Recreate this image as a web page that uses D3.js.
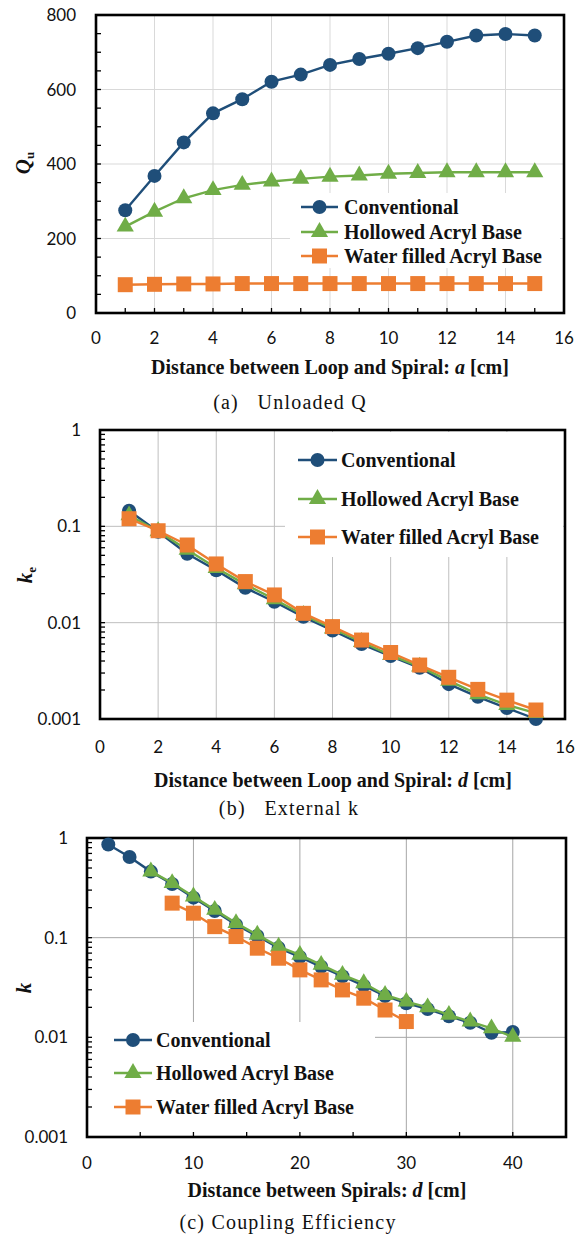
<!DOCTYPE html>
<html>
<head>
<meta charset="utf-8">
<script src="https://cdn.jsdelivr.net/npm/d3@7"></script>
<style>
  body { margin: 0; background: #fff; }
  svg text { fill: #111; }
</style>
</head>
<body>
<svg id="fig" width="579" height="1236"></svg>
<script>
// ---- data ----
const seriesNames = ["Conventional", "Hollowed Acryl Base", "Water filled Acryl Base"];
const seriesColors = ["#1f4e79", "#70ad47", "#ed7d31"];
const seriesSymbols = ["circle", "triangle", "square"];

// (a) unloaded Q vs loop-spiral distance a [cm]
const qDist = [1, 2, 3, 4, 5, 6, 7, 8, 9, 10, 11, 12, 13, 14, 15];
const qConventional = [276, 368, 458, 536, 574, 621, 640, 666, 682, 696, 711, 728, 745, 749, 745];
const qHollowed = [232, 272, 308, 330, 344, 353, 360, 366, 369, 374, 376, 378, 378, 378, 378];
const qWater = [76, 77, 78, 78, 79, 79, 79, 79, 79, 79, 79, 79, 79, 79, 79];

// (b) external coupling ke vs loop-spiral distance d [cm]
const keDist = [1, 2, 3, 4, 5, 6, 7, 8, 9, 10, 11, 12, 13, 14, 15];
const keConventional = [0.145, 0.088, 0.052, 0.035, 0.023, 0.0165, 0.0115, 0.0083, 0.006, 0.0045, 0.0034, 0.0023, 0.0017, 0.0013, 0.001];
const keHollowed = [0.13, 0.089, 0.057, 0.037, 0.025, 0.0175, 0.012, 0.0087, 0.0063, 0.0046, 0.0035, 0.0025, 0.0018, 0.0014, 0.00115];
const keWater = [0.12, 0.09, 0.064, 0.0407, 0.0267, 0.0194, 0.0125, 0.0091, 0.0066, 0.0049, 0.00363, 0.00271, 0.00203, 0.00157, 0.00124];

// (c) coupling coefficient k vs spiral-spiral distance d [cm]
const kDistConventional = [2, 4, 6, 8, 10, 12, 14, 16, 18, 20, 22, 24, 26, 28, 30, 32, 34, 36, 38, 40];
const kConventional = [0.86, 0.645, 0.46, 0.345, 0.252, 0.185, 0.135, 0.104, 0.079, 0.064, 0.051, 0.041, 0.033, 0.026, 0.022, 0.0192, 0.0163, 0.014, 0.0111, 0.0113];
const kDistHollowed = [6, 8, 10, 12, 14, 16, 18, 20, 22, 24, 26, 28, 30, 32, 34, 36, 38, 40];
const kHollowed = [0.462, 0.353, 0.259, 0.19, 0.14, 0.107, 0.0814, 0.0672, 0.0533, 0.0423, 0.0349, 0.0266, 0.0228, 0.02, 0.0168, 0.0144, 0.0123, 0.0101];
const kDistWater = [8, 10, 12, 14, 16, 18, 20, 22, 24, 26, 28, 30];
const kWater = [0.222, 0.176, 0.129, 0.1026, 0.0784, 0.0622, 0.0475, 0.0377, 0.0299, 0.0247, 0.0188, 0.0144];

// tick labels
const qXTicks = [0, 2, 4, 6, 8, 10, 12, 14, 16];
const qYTicks = [0, 200, 400, 600, 800];
const logTicks = [0.001, 0.01, 0.1, 1];
const logTickLabels = ["0.001", "0.01", "0.1", "1"];
const kXTicks = [0, 10, 20, 30, 40];

// ---- drawing ----
const svg = d3.select("#fig");
const TICK_FONT = "Lato, 'Open Sans', sans-serif";
const SERIF = "'Liberation Serif', 'Times New Roman', serif";

const symbolTypes = {
  circle: { type: d3.symbolCircle, size: Math.PI * 7 * 7 },
  triangle: { type: d3.symbolTriangle, size: 128 },
  square: { type: d3.symbolSquare, size: 225 }
};

function symbolPath(name) {
  const s = symbolTypes[name];
  return d3.symbol().type(s.type).size(s.size)();
}

function drawPanel(cfg) {
  const g = svg.append("g");
  const x = d3.scaleLinear().domain(cfg.xDomain).range([cfg.left, cfg.right]);
  const y = (cfg.log ? d3.scaleLog() : d3.scaleLinear()).domain(cfg.yDomain).range([cfg.bottom, cfg.top]);

  // gridlines
  g.append("g").selectAll("line.gx").data(cfg.gridX).join("line")
    .attr("x1", d => x(d)).attr("x2", d => x(d))
    .attr("y1", cfg.top).attr("y2", cfg.bottom)
    .attr("stroke", cfg.gridColor).attr("stroke-width", 1);
  g.append("g").selectAll("line.gy").data(cfg.gridY).join("line")
    .attr("x1", cfg.left).attr("x2", cfg.right)
    .attr("y1", d => y(d)).attr("y2", d => y(d))
    .attr("stroke", cfg.gridColor).attr("stroke-width", 1);

  // legend background masks the grid behind it
  const lb = cfg.legendBox;
  g.append("rect").attr("x", lb[0]).attr("y", lb[1]).attr("width", lb[2] - lb[0]).attr("height", lb[3] - lb[1])
    .attr("fill", "#fff");

  // inward minor ticks
  const yMinor = cfg.yMinor;
  g.append("g").selectAll("line").data(yMinor).join("line")
    .attr("x1", cfg.left).attr("x2", cfg.left + 5)
    .attr("y1", d => y(d)).attr("y2", d => y(d))
    .attr("stroke", "#000").attr("stroke-width", 1.3);
  g.append("g").selectAll("line").data(cfg.xMinor).join("line")
    .attr("x1", d => x(d)).attr("x2", d => x(d))
    .attr("y1", cfg.bottom).attr("y2", cfg.bottom - 5)
    .attr("stroke", "#000").attr("stroke-width", 1.3);

  // frame
  g.append("rect").attr("x", cfg.left).attr("y", cfg.top)
    .attr("width", cfg.right - cfg.left).attr("height", cfg.bottom - cfg.top)
    .attr("fill", "none").attr("stroke", "#000").attr("stroke-width", 2.6);

  // tick labels
  g.append("g").selectAll("text").data(cfg.xTicks).join("text")
    .attr("x", d => x(d)).attr("y", cfg.xLabelY).attr("dy", "0.36em")
    .attr("text-anchor", "middle").attr("font-family", TICK_FONT).attr("font-size", 17)
    .text(d => d);
  g.append("g").selectAll("text").data(cfg.yTicks).join("text")
    .attr("x", cfg.yLabelX).attr("y", d => y(d)).attr("dy", "0.36em")
    .attr("text-anchor", "end").attr("font-family", TICK_FONT).attr("font-size", 17)
    .text((d, i) => cfg.yTickLabels ? cfg.yTickLabels[i] : d);

  // series
  cfg.series.forEach((s, si) => {
    const pts = s.xs.map((xv, i) => [x(xv), y(s.ys[i])]);
    g.append("path").attr("d", d3.line()(pts))
      .attr("fill", "none").attr("stroke", seriesColors[si]).attr("stroke-width", 2.4);
    g.append("g").selectAll("path").data(pts).join("path")
      .attr("d", symbolPath(seriesSymbols[si]))
      .attr("transform", d => `translate(${d[0]},${d[1]})`)
      .attr("fill", seriesColors[si]);
  });

  // legend
  seriesNames.forEach((name, i) => {
    const ly = cfg.legendYs[i];
    const [lx1, lx2, tx] = cfg.legendX;
    g.append("line").attr("x1", lx1).attr("x2", lx2).attr("y1", ly).attr("y2", ly)
      .attr("stroke", seriesColors[i]).attr("stroke-width", 2.4);
    g.append("path").attr("d", symbolPath(seriesSymbols[i]))
      .attr("transform", `translate(${(lx1 + lx2) / 2},${ly})`).attr("fill", seriesColors[i]);
    g.append("text").attr("x", tx).attr("y", ly).attr("dy", "0.34em")
      .attr("font-family", SERIF).attr("font-weight", "bold").attr("font-size", 20)
      .text(name);
  });

  // x-axis title
  const xt = g.append("text").attr("x", cfg.xTitle.x).attr("y", cfg.xTitle.y).attr("dy", "0.34em")
    .attr("text-anchor", "middle").attr("font-family", SERIF).attr("font-weight", "bold").attr("font-size", 20);
  xt.append("tspan").text(cfg.xTitle.pre);
  xt.append("tspan").attr("font-style", "italic").text(cfg.xTitle.v);
  xt.append("tspan").text(cfg.xTitle.post);

  // y-axis title (rotated)
  const yt = g.append("text")
    .attr("transform", `translate(${cfg.yTitle.x},${cfg.yTitle.y}) rotate(-90)`)
    .attr("text-anchor", "middle").attr("dy", "0.34em")
    .attr("font-family", SERIF).attr("font-weight", "bold").attr("font-size", 21);
  yt.append("tspan").attr("font-style", "italic").text(cfg.yTitle.main);
  if (cfg.yTitle.sub) {
    yt.append("tspan").attr("font-size", 13).attr("dy", "0.3em").text(cfg.yTitle.sub);
  }

  // caption
  svg.append("text").attr("x", cfg.caption.x).attr("y", cfg.caption.y).attr("dy", "0.34em")
    .attr("text-anchor", "middle").attr("font-family", SERIF).attr("font-size", 20)
    .attr("letter-spacing", 1.2).attr("xml:space", "preserve").style("white-space", "pre")
    .text(cfg.caption.text);
}

function logMinor(lo, hi) {
  const out = [];
  for (let e = Math.log10(lo); e < Math.log10(hi); e++) {
    for (let m = 1; m < 10; m++) out.push(m * Math.pow(10, e));
  }
  out.push(hi);
  return out;
}

// (a)
drawPanel({
  left: 96, right: 564, top: 15, bottom: 313,
  xDomain: [0, 16], yDomain: [0, 800], log: false,
  gridX: [2, 4, 6, 8, 10, 12, 14], gridY: [200, 400, 600], gridColor: "#d9d9d9",
  xMinor: d3.range(1, 16, 1), yMinor: d3.range(50, 800, 50),
  xTicks: qXTicks, yTicks: qYTicks,
  xLabelY: 338, yLabelX: 76,
  legendBox: [290, 193, 560, 268], legendX: [301, 338, 344], legendYs: [207, 232, 256],
  series: [
    { xs: qDist, ys: qConventional },
    { xs: qDist, ys: qHollowed },
    { xs: qDist, ys: qWater }
  ],
  xTitle: { x: 330, y: 367, pre: "Distance between Loop and Spiral: ", v: "a", post: " [cm]" },
  yTitle: { x: 23, y: 163, main: "Q", sub: "u" },
  caption: { x: 290, y: 402, text: "(a)   Unloaded Q" }
});

// (b)
drawPanel({
  left: 100, right: 565, top: 430, bottom: 719,
  xDomain: [0, 16], yDomain: [0.001, 1], log: true,
  gridX: [2, 4, 6, 8, 10, 12, 14], gridY: [0.01, 0.1], gridColor: "#bfbfbf",
  xMinor: [], yMinor: logMinor(0.001, 1),
  xTicks: qXTicks, yTicks: logTicks, yTickLabels: logTickLabels,
  xLabelY: 747, yLabelX: 81,
  legendBox: [285, 432, 563, 557], legendX: [298, 337, 341], legendYs: [460, 499, 537],
  series: [
    { xs: keDist, ys: keConventional },
    { xs: keDist, ys: keHollowed },
    { xs: keDist, ys: keWater }
  ],
  xTitle: { x: 333, y: 780, pre: "Distance between Loop and Spiral: ", v: "d", post: " [cm]" },
  yTitle: { x: 25, y: 575, main: "k", sub: "e" },
  caption: { x: 289, y: 808, text: "(b)   External k" }
});

// (c)
drawPanel({
  left: 87, right: 566, top: 838, bottom: 1137,
  xDomain: [0, 45], yDomain: [0.001, 1], log: true,
  gridX: [10, 20, 30, 40], gridY: [0.01, 0.1], gridColor: "#a6a6a6",
  xMinor: [5, 10, 15, 20, 25, 30, 35, 40], yMinor: logMinor(0.001, 1),
  xTicks: kXTicks, yTicks: logTicks, yTickLabels: logTickLabels,
  xLabelY: 1163, yLabelX: 68,
  legendBox: [89, 1022, 375, 1135], legendX: [114, 152, 156], legendYs: [1040, 1073, 1107],
  series: [
    { xs: kDistConventional, ys: kConventional },
    { xs: kDistHollowed, ys: kHollowed },
    { xs: kDistWater, ys: kWater }
  ],
  xTitle: { x: 327, y: 1190, pre: "Distance between Spirals: ", v: "d", post: " [cm]" },
  yTitle: { x: 24, y: 988, main: "k" },
  caption: { x: 288, y: 1222, text: "(c) Coupling Efficiency" }
});
</script>
</body>
</html>
